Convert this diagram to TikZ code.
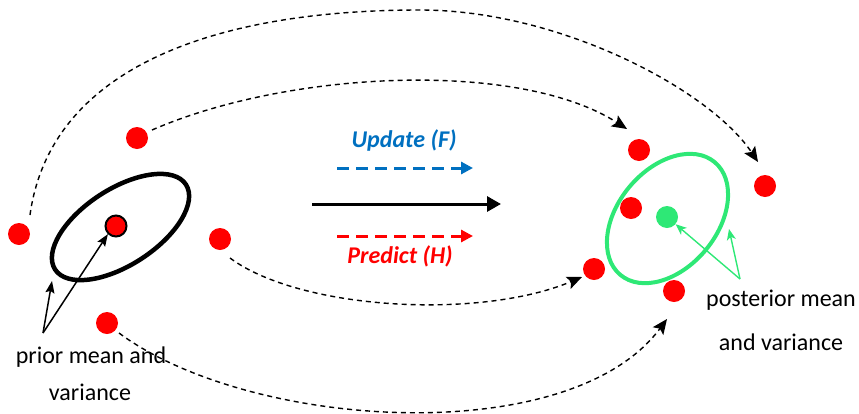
\documentclass[tikz,border=0pt]{standalone}
\usepackage{fontspec}
\setmainfont{Carlito}
\usetikzlibrary{arrows.meta}
\definecolor{myred}{RGB}{255,0,0}
\definecolor{myblue}{RGB}{0,112,192}
\definecolor{mygreen}{RGB}{46,232,118}
\begin{document}
\begin{tikzpicture}[x=1pt,y=-1pt,
  reddot/.style={circle,fill=myred,minimum size=22pt,inner sep=0pt},
  flow/.style={dash pattern=on 5pt off 4pt, line width=1.4pt, -{Stealth[length=15pt,width=13pt,inset=3pt]}},
  lbl/.style={font=\fontsize{24}{28}\selectfont, inner sep=0pt},
  blbl/.style={font=\fontsize{24}{28}\selectfont\bfseries\itshape, inner sep=0pt},
  ptr/.style={line width=1.5pt, -{Stealth[length=12pt,width=9pt,inset=2pt]}},
  gptr/.style={line width=1.4pt, mygreen, -{Stealth[length=11pt,width=9pt,inset=3pt]}}]
\useasboundingbox (0,0) rectangle (859,413);

% ellipses
\coordinate (pc) at (120.5,227);
\coordinate (qc) at (667.5,218.5);
\draw[line width=4.5pt, rotate around={33:(pc)}] (pc) ellipse [x radius=78, y radius=38];
\draw[mygreen, line width=4pt, rotate around={50:(qc)}] (qc) ellipse [x radius=73.5, y radius=49.5];

% dots
\node[reddot] (A) at (137,138) {};
\node[reddot] (B) at (19,234) {};
\node[reddot] (C) at (220,239) {};
\node[reddot] (D) at (107,323) {};
\node[circle,fill=myred,draw=black,line width=2pt,minimum size=21pt,inner sep=0pt] (pm) at (116,226) {};
\node[reddot] (E) at (639,150) {};
\node[reddot] (F) at (765,186) {};
\node[reddot] (G) at (631,208) {};
\node[reddot] (H) at (594,269) {};
\node[reddot] (I) at (674,291) {};
\node[circle,fill=mygreen,minimum size=22pt,inner sep=0pt] (gm) at (667,217) {};

% dashed flows
\coordinate (s1) at (152,130); \coordinate (t1) at (627,129);
\coordinate (s2) at (30,215);  \coordinate (m2) at (420,10); \coordinate (t2) at (758,162);
\coordinate (s3) at (230,258); \coordinate (t3) at (582,277);
\coordinate (s4) at (119,333); \coordinate (t4) at (667,319);
\draw[flow] (s1) .. controls (290,70) and (520,60) .. (t1);
\draw[flow] (s2) .. controls (50,70) and (210,10) .. (m2) .. controls (560,10) and (710,90) .. (t2);
\draw[flow] (s3) .. controls (300,310) and (480,320) .. (t3);
\draw[flow] (s4) .. controls (250,430) and (570,450) .. (t4);

% middle arrows
\coordinate (ub0) at (337,168); \coordinate (ub1) at (473,168);
\coordinate (k0) at (312,204);  \coordinate (k1) at (501,204);
\coordinate (rb0) at (337,236); \coordinate (rb1) at (473,236);
\draw[myblue, line width=3pt, dash pattern=on 12pt off 7pt, -{Triangle[length=12pt,width=12pt]}] (ub0) -- (ub1);
\draw[line width=3pt, -{Triangle[length=14pt,width=15pt]}] (k0) -- (k1);
\draw[myred, line width=3pt, dash pattern=on 12pt off 7pt, -{Triangle[length=12pt,width=12pt]}] (rb0) -- (rb1);
\node[blbl, text=myblue] (upd) at (404,140) {Update (F)};
\node[blbl, text=myred] (pre) at (400,256) {Predict (H)};

% prior labels
\node[lbl] (pl1) at (91,357) {prior mean and};
\node[lbl] (pl2) at (90,392) {variance};
\coordinate (pa) at (43,333);
\coordinate (pe) at (52,281);
\draw[ptr] (pa) -- (pe);
\draw[ptr] (pa) -- (pm.225);

% posterior labels
\node[lbl] (ql1) at (781,300) {posterior mean};
\node[lbl] (ql2) at (781,342) {and variance};
\coordinate (qa) at (740,279);
\coordinate (qe) at (729,229);
\draw[gptr] (qa) -- (gm.-40);
\draw[gptr] (qa) -- (qe);
\end{tikzpicture}
\end{document}
